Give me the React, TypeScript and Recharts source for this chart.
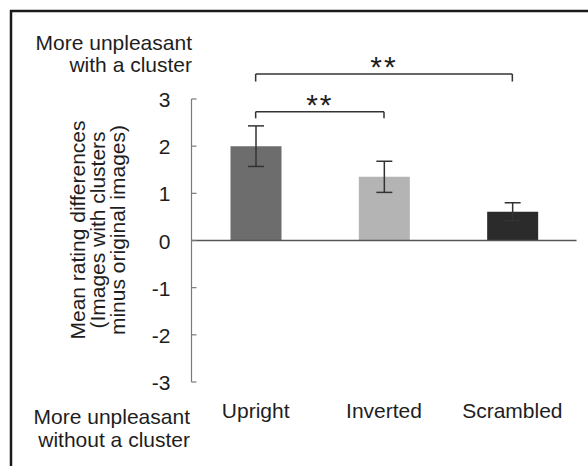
import { BarChart, Bar, XAxis, YAxis, Cell, ErrorBar, ReferenceLine } from "recharts";

const categories = ["Upright", "Inverted", "Scrambled"];
const means = [2.0, 1.35, 0.61];
const errors = [0.43, 0.33, 0.19];
const barColors = ["#6d6d6d", "#b4b4b4", "#2b2b2b"];
const yTicks = [-3, -2, -1, 0, 1, 2, 3];

// significance brackets: from / to category, height, drop length
const bracketFrom = ["Upright", "Upright"];
const bracketTo = ["Inverted", "Scrambled"];
const bracketY = [2.73, 3.53];
const bracketDrop = [0.14, 0.16];
const bracketLabel = ["**", "**"];

const data = categories.map((name, i) => ({ name, mean: means[i], err: errors[i] }));

const FONT = "'Liberation Sans', Arial, sans-serif";
const TEXT = "#1e1e1e";

function YTick({ x, y, payload }: any) {
  return (
    <g>
      <line x1={x} x2={x + 5} y1={y} y2={y} stroke="#7a7a7a" strokeWidth={1.2} />
      <text x={x - 21} y={y + 8} textAnchor="end" fontSize={21} fill={TEXT} fontFamily={FONT}>
        {payload.value}
      </text>
    </g>
  );
}

function XTick({ x, y, payload }: any) {
  return (
    <text x={x} y={y + 36} textAnchor="middle" fontSize={21} fill={TEXT} fontFamily={FONT}>
      {payload.value}
    </text>
  );
}

export default function App() {
  return (
    <div style={{ position: "absolute", left: 0, top: 0, width: 588, height: 466, background: "#fff", fontFamily: FONT }}>
      <BarChart width={588} height={466} data={data} margin={{ top: 99, right: 11.5, bottom: 54, left: 0 }}>
        <XAxis
          dataKey="name"
          axisLine={false}
          tickLine={false}
          tickSize={0}
          tickMargin={0}
          height={30}
          tick={<XTick />}
        />
        <YAxis
          type="number"
          domain={[-3, 3]}
          ticks={yTicks}
          width={191.5}
          axisLine={{ stroke: "#7a7a7a", strokeWidth: 1.2 }}
          tickLine={false}
          tickSize={0}
          tickMargin={0}
          tick={<YTick />}
        />
        <ReferenceLine y={0} stroke="#555" strokeWidth={1.3} />
        <Bar dataKey="mean" barSize={51} isAnimationActive={false}>
          {data.map((d, i) => (
            <Cell key={d.name} fill={barColors[i]} />
          ))}
          <ErrorBar dataKey="err" width={8} stroke="#333" strokeWidth={1.5} isAnimationActive={false} />
        </Bar>
        {bracketY.map((by, i) => (
          <ReferenceLine
            key={`h${i}`}
            ifOverflow="visible"
            stroke="#333"
            strokeWidth={1.5}
            segment={[
              { x: bracketFrom[i], y: by },
              { x: bracketTo[i], y: by },
            ]}
            label={{
              value: bracketLabel[i],
              position: "top",
              offset: -3,
              fontSize: 30,
              fill: TEXT,
              fontFamily: FONT,
              letterSpacing: 2,
            }}
          />
        ))}
        {bracketY.map((by, i) => (
          <ReferenceLine
            key={`l${i}`}
            ifOverflow="visible"
            stroke="#333"
            strokeWidth={1.5}
            segment={[
              { x: bracketFrom[i], y: by },
              { x: bracketFrom[i], y: by - bracketDrop[i] },
            ]}
          />
        ))}
        {bracketY.map((by, i) => (
          <ReferenceLine
            key={`r${i}`}
            ifOverflow="visible"
            stroke="#333"
            strokeWidth={1.5}
            segment={[
              { x: bracketTo[i], y: by },
              { x: bracketTo[i], y: by - bracketDrop[i] },
            ]}
          />
        ))}
      </BarChart>
      <svg
        width={588}
        height={466}
        style={{ position: "absolute", left: 0, top: 0, pointerEvents: "none" }}
        fontFamily={FONT}
        fill={TEXT}
      >
        <line x1={10} x2={588} y1={11} y2={11} stroke="#1a1a1a" strokeWidth={2.5} />
        <line x1={11} x2={11} y1={10} y2={466} stroke="#1a1a1a" strokeWidth={2.5} />
        <text fontSize={21} textAnchor="end">
          <tspan x={192} y={50}>More unpleasant</tspan>
          <tspan x={192} y={72}>with a cluster</tspan>
        </text>
        <text fontSize={21} textAnchor="end">
          <tspan x={190} y={424}>More unpleasant</tspan>
          <tspan x={190} y={447}>without a cluster</tspan>
        </text>
        <text fontSize={21} textAnchor="middle" transform="translate(98,230) rotate(-90)">
          <tspan x={0} y={-13}>Mean rating differences</tspan>
          <tspan x={0} y={7}>(Images with clusters</tspan>
          <tspan x={0} y={27}>minus original images)</tspan>
        </text>
      </svg>
    </div>
  );
}
